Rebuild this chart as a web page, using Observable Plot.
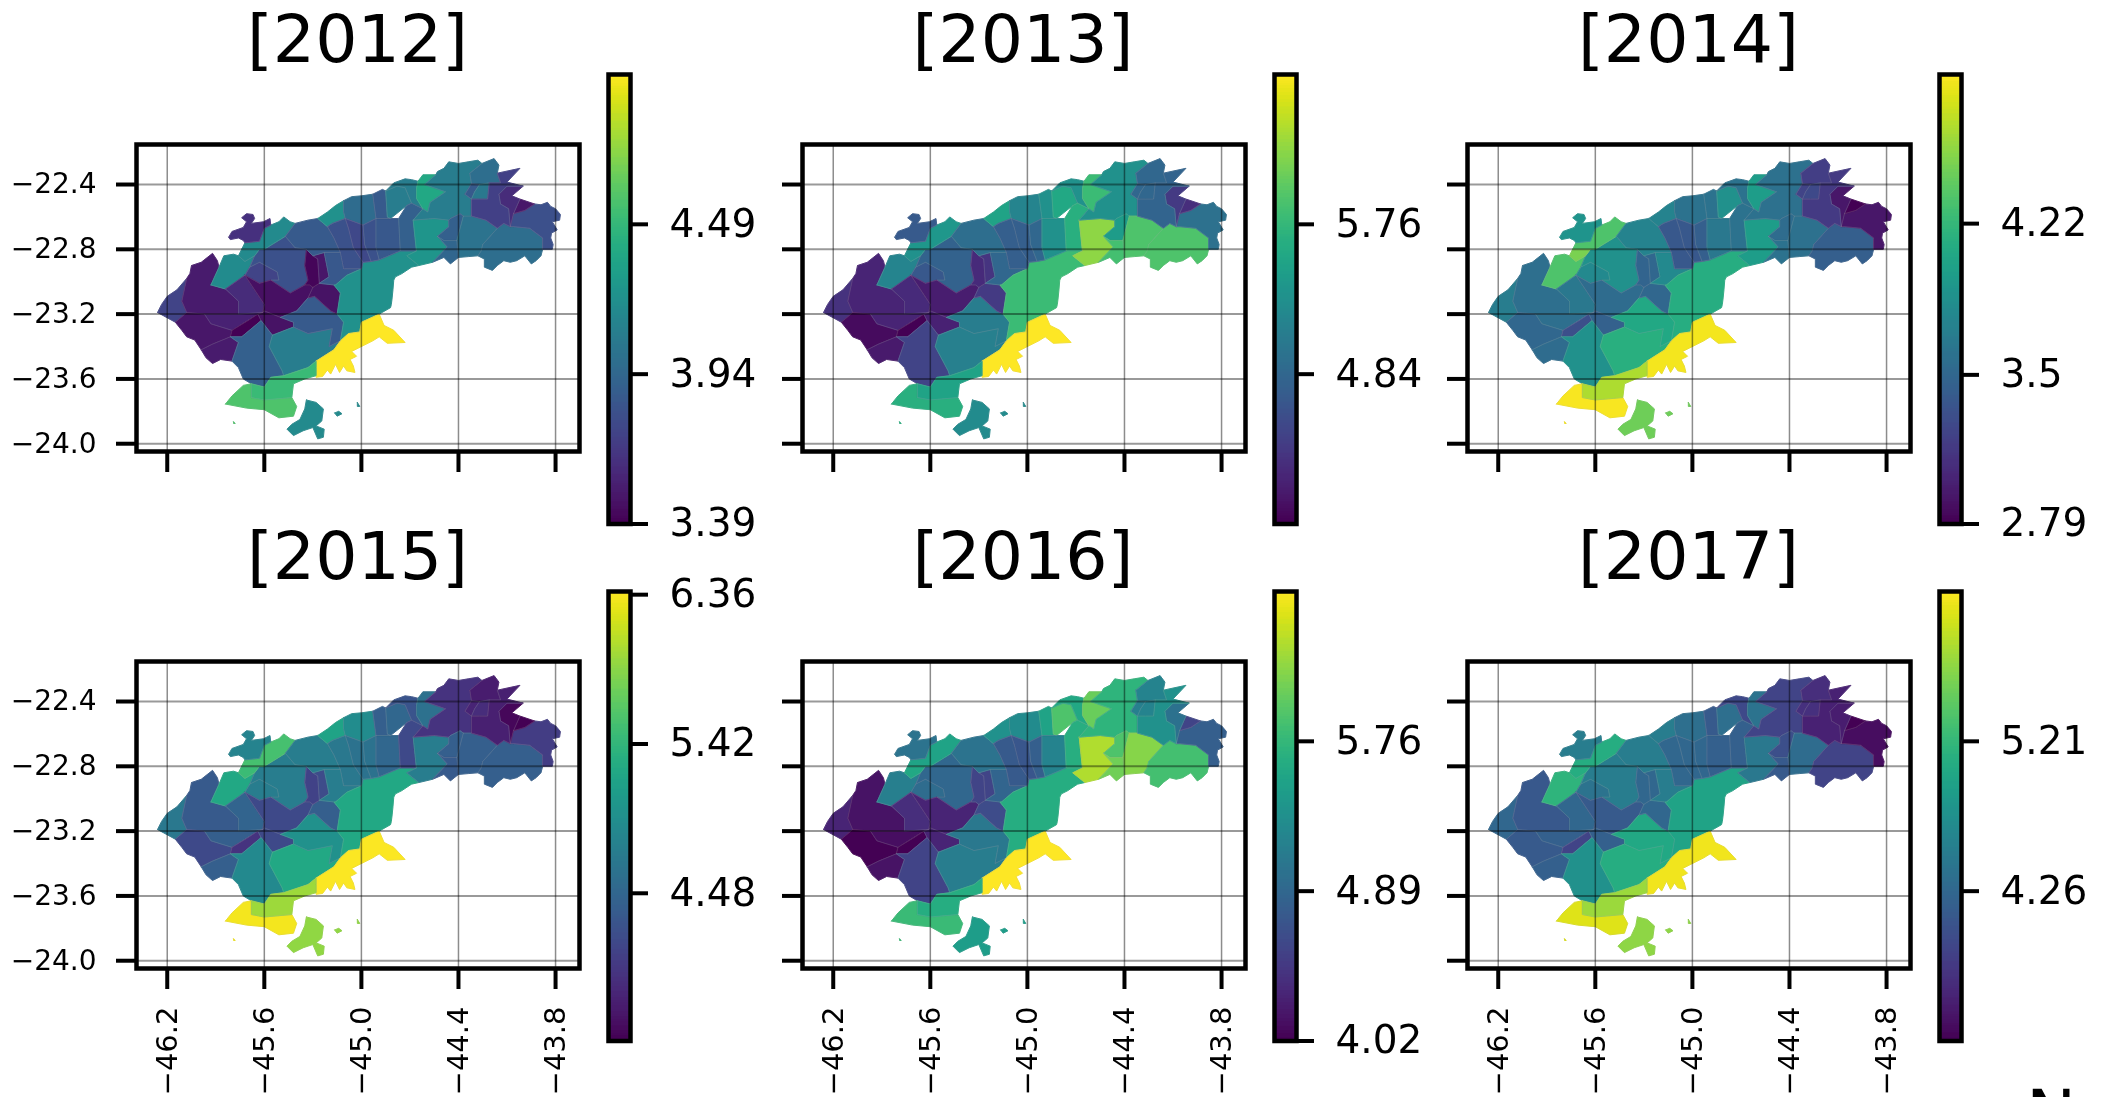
<!DOCTYPE html>
<html>
<head>
<meta charset="utf-8">
<script src="https://cdn.jsdelivr.net/npm/d3@7"></script>
<script src="https://cdn.jsdelivr.net/npm/@observablehq/plot@0.6"></script>
<style>
html,body{margin:0;padding:0;background:#fff;overflow:hidden}
#fig{position:relative;width:2108px;height:1097px;overflow:hidden;background:#fff;font-family:"DejaVu Sans";color:#000;filter:blur(0.6px)}
#fig svg{position:absolute;overflow:visible;background:transparent}
.ttl{position:absolute;font:66.5px/1 "DejaVu Sans";transform:translateX(-50%);white-space:nowrap}
</style>
</head>
<body>
<div id="fig"></div>
<script>
const years = [2012, 2013, 2014, 2015, 2016, 2017];
const lonTicks = [-46.2, -45.6, -45.0, -44.4, -43.8];
const latTicks = [-22.4, -22.8, -23.2, -23.6, -24.0];
const lonDomain = [-46.39, -43.652];
const latDomain = [-24.048, -22.153];

const regionOutlines = [
 [0,[-46.26,-23.19,-46.235,-23.14,-46.20,-23.09,-46.14,-23.05,-46.08,-22.98,-46.11,-23.12,-46.08,-23.19,-46.15,-23.25]],
 [1,[-46.05,-22.90,-45.99,-22.88,-45.92,-22.825,-45.89,-22.87,-45.88,-22.91,-45.93,-23.02,-45.84,-23.045,-45.76,-23.12,-45.76,-23.20,-45.97,-23.20,-46.08,-23.19,-46.11,-23.12,-46.08,-22.98,-46.06,-22.95]],
 [2,[-46.15,-23.25,-46.08,-23.19,-45.97,-23.20,-45.93,-23.26,-45.80,-23.30,-45.81,-23.34,-45.92,-23.385,-45.99,-23.42,-46.03,-23.36,-46.08,-23.34,-46.11,-23.30]],
 [3,[-45.97,-23.20,-45.76,-23.20,-45.61,-23.19,-45.64,-23.20,-45.80,-23.30,-45.93,-23.26]],
 [4,[-45.93,-23.02,-45.88,-22.91,-45.85,-22.84,-45.79,-22.83,-45.76,-22.84,-45.72,-22.875,-45.66,-22.84,-45.69,-22.91,-45.72,-22.96,-45.84,-23.045]],
 [5,[-45.84,-23.045,-45.72,-22.96,-45.60,-23.14,-45.61,-23.19,-45.76,-23.20,-45.76,-23.12]],
 [6,[-45.72,-22.96,-45.69,-22.91,-45.63,-22.88,-45.52,-22.94,-45.51,-22.99,-45.56,-22.99,-45.63,-23.01]],
 [7,[-45.69,-22.91,-45.66,-22.84,-45.63,-22.80,-45.60,-22.80,-45.47,-22.72,-45.41,-22.79,-45.34,-22.80,-45.35,-22.90,-45.33,-22.99,-45.35,-23.02,-45.44,-23.07,-45.56,-22.99,-45.51,-22.99,-45.52,-22.94,-45.63,-22.88]],
 [8,[-45.74,-22.80,-45.72,-22.76,-45.63,-22.75,-45.60,-22.67,-45.56,-22.65,-45.51,-22.63,-45.48,-22.60,-45.44,-22.63,-45.41,-22.64,-45.47,-22.72,-45.60,-22.80,-45.63,-22.80]],
 [9,[-45.82,-22.725,-45.80,-22.69,-45.73,-22.665,-45.71,-22.63,-45.74,-22.605,-45.71,-22.58,-45.67,-22.585,-45.66,-22.61,-45.68,-22.64,-45.605,-22.63,-45.565,-22.61,-45.56,-22.65,-45.60,-22.67,-45.63,-22.75,-45.72,-22.76,-45.73,-22.745,-45.76,-22.73,-45.81,-22.74]],
 [10,[-45.72,-22.96,-45.63,-23.01,-45.56,-22.99,-45.44,-23.07,-45.35,-23.02,-45.32,-23.02,-45.30,-23.035,-45.33,-23.10,-45.40,-23.18,-45.50,-23.22,-45.60,-23.18,-45.61,-23.19,-45.60,-23.14]],
 [11,[-45.80,-23.30,-45.70,-23.24,-45.64,-23.20,-45.62,-23.24,-45.74,-23.34,-45.81,-23.34]],
 [12,[-45.64,-23.20,-45.61,-23.19,-45.60,-23.18,-45.50,-23.22,-45.42,-23.25,-45.42,-23.28,-45.55,-23.33,-45.62,-23.24]],
 [13,[-45.99,-23.42,-45.92,-23.385,-45.81,-23.34,-45.76,-23.375,-45.80,-23.49,-45.87,-23.48,-45.92,-23.505,-45.96,-23.47]],
 [14,[-45.74,-23.34,-45.62,-23.24,-45.55,-23.33,-45.57,-23.40,-45.49,-23.55,-45.48,-23.58,-45.56,-23.59,-45.60,-23.65,-45.68,-23.63,-45.73,-23.60,-45.76,-23.53,-45.80,-23.49,-45.76,-23.375,-45.81,-23.34]],
 [15,[-45.55,-23.33,-45.42,-23.28,-45.33,-23.32,-45.18,-23.29,-45.20,-23.40,-45.13,-23.365,-45.17,-23.42,-45.28,-23.49,-45.33,-23.53,-45.48,-23.58,-45.49,-23.55,-45.57,-23.40]],
 [16,[-45.50,-23.22,-45.40,-23.18,-45.33,-23.10,-45.29,-23.09,-45.19,-23.18,-45.15,-23.20,-45.11,-23.25,-45.13,-23.365,-45.20,-23.40,-45.18,-23.29,-45.33,-23.32,-45.42,-23.28,-45.42,-23.25]],
 [17,[-45.30,-23.035,-45.26,-23.01,-45.17,-23.02,-45.13,-23.07,-45.15,-23.20,-45.19,-23.18,-45.29,-23.09,-45.33,-23.10]],
 [18,[-45.34,-22.80,-45.30,-22.84,-45.27,-22.86,-45.26,-23.01,-45.30,-23.035,-45.32,-23.02,-45.35,-23.02,-45.33,-22.99,-45.35,-22.90]],
 [19,[-45.30,-22.84,-45.23,-22.82,-45.20,-22.97,-45.26,-23.01,-45.27,-22.86]],
 [20,[-45.23,-22.82,-45.13,-22.82,-45.11,-22.92,-45.00,-22.92,-45.09,-22.96,-45.16,-23.02,-45.17,-23.02,-45.26,-23.01,-45.20,-22.97]],
 [21,[-45.16,-23.02,-45.09,-22.96,-45.00,-22.92,-44.99,-22.88,-44.94,-22.875,-44.89,-22.865,-44.76,-22.81,-44.66,-22.81,-44.72,-22.84,-44.645,-22.90,-44.69,-22.91,-44.75,-22.95,-44.79,-22.97,-44.80,-22.99,-44.805,-23.05,-44.81,-23.10,-44.815,-23.14,-44.82,-23.16,-44.89,-23.20,-45.00,-23.25,-45.01,-23.31,-45.08,-23.32,-45.13,-23.365,-45.11,-23.25,-45.15,-23.20,-45.13,-23.07,-45.17,-23.02]],
 [22,[-45.47,-22.72,-45.41,-22.64,-45.33,-22.62,-45.27,-22.61,-45.21,-22.66,-45.17,-22.73,-45.13,-22.82,-45.23,-22.82,-45.30,-22.84,-45.34,-22.80,-45.41,-22.79]],
 [23,[-45.76,-22.84,-45.74,-22.80,-45.63,-22.80,-45.66,-22.84,-45.72,-22.875]],
 [24,[-45.27,-22.61,-45.21,-22.57,-45.16,-22.53,-45.11,-22.50,-45.11,-22.57,-45.10,-22.61,-45.18,-22.64,-45.21,-22.66]],
 [25,[-45.11,-22.50,-45.06,-22.475,-45.00,-22.47,-44.93,-22.46,-44.91,-22.61,-44.99,-22.65,-45.10,-22.61,-45.11,-22.57]],
 [26,[-44.93,-22.46,-44.87,-22.43,-44.85,-22.44,-44.84,-22.60,-44.82,-22.61,-44.91,-22.61]],
 [27,[-45.21,-22.66,-45.18,-22.64,-45.10,-22.61,-45.08,-22.67,-45.05,-22.79,-44.99,-22.88,-45.00,-22.92,-45.11,-22.92,-45.13,-22.82,-45.17,-22.73]],
 [28,[-45.10,-22.61,-44.99,-22.65,-44.98,-22.77,-44.94,-22.875,-44.99,-22.88,-45.05,-22.79,-45.08,-22.67]],
 [29,[-44.99,-22.65,-44.91,-22.61,-44.91,-22.79,-44.89,-22.865,-44.94,-22.875,-44.98,-22.77]],
 [30,[-44.85,-22.44,-44.78,-22.41,-44.73,-22.42,-44.69,-22.515,-44.72,-22.53,-44.82,-22.61,-44.84,-22.60]],
 [31,[-44.85,-22.44,-44.80,-22.39,-44.73,-22.365,-44.69,-22.37,-44.65,-22.38,-44.66,-22.425,-44.66,-22.485,-44.62,-22.55,-44.69,-22.515,-44.73,-22.42,-44.78,-22.41]],
 [32,[-44.91,-22.61,-44.82,-22.61,-44.77,-22.61,-44.76,-22.81,-44.89,-22.865,-44.91,-22.79]],
 [33,[-44.77,-22.61,-44.72,-22.53,-44.69,-22.515,-44.62,-22.55,-44.68,-22.62,-44.66,-22.81,-44.76,-22.81]],
 [34,[-44.68,-22.62,-44.55,-22.61,-44.46,-22.62,-44.46,-22.66,-44.53,-22.72,-44.47,-22.785,-44.56,-22.88,-44.645,-22.90,-44.72,-22.84,-44.66,-22.81]],
 [35,[-44.65,-22.38,-44.62,-22.34,-44.54,-22.34,-44.61,-22.40,-44.48,-22.445,-44.575,-22.51,-44.59,-22.57,-44.62,-22.55,-44.66,-22.485,-44.66,-22.425]],
 [36,[-44.54,-22.34,-44.53,-22.32,-44.49,-22.30,-44.46,-22.26,-44.40,-22.27,-44.34,-22.26,-44.28,-22.25,-44.255,-22.27,-44.33,-22.33,-44.32,-22.395,-44.36,-22.46,-44.32,-22.49,-44.32,-22.595,-44.37,-22.595,-44.39,-22.58,-44.45,-22.61,-44.46,-22.62,-44.55,-22.61,-44.68,-22.62,-44.62,-22.55,-44.59,-22.57,-44.575,-22.51,-44.48,-22.445,-44.61,-22.40]],
 [37,[-44.53,-22.72,-44.46,-22.66,-44.46,-22.62,-44.45,-22.61,-44.39,-22.58,-44.37,-22.595,-44.41,-22.745,-44.49,-22.745]],
 [38,[-44.37,-22.595,-44.32,-22.595,-44.23,-22.62,-44.16,-22.67,-44.25,-22.77,-44.26,-22.81,-44.28,-22.84,-44.34,-22.845,-44.40,-22.85,-44.41,-22.745]],
 [39,[-44.53,-22.72,-44.49,-22.745,-44.41,-22.745,-44.40,-22.85,-44.45,-22.89,-44.49,-22.85,-44.56,-22.88,-44.47,-22.785]],
 [40,[-44.25,-22.77,-44.16,-22.67,-44.12,-22.64,-44.08,-22.66,-44.06,-22.66,-43.96,-22.67,-43.88,-22.73,-43.88,-22.80,-43.89,-22.84,-43.92,-22.87,-43.95,-22.89,-43.99,-22.84,-44.04,-22.87,-44.08,-22.88,-44.12,-22.87,-44.16,-22.90,-44.19,-22.93,-44.24,-22.91,-44.24,-22.86,-44.28,-22.84,-44.26,-22.81]],
 [41,[-44.08,-22.66,-44.06,-22.58,-43.99,-22.56,-43.93,-22.52,-43.89,-22.525,-43.85,-22.51,-43.83,-22.535,-43.80,-22.55,-43.77,-22.585,-43.775,-22.62,-43.82,-22.63,-43.79,-22.68,-43.825,-22.70,-43.83,-22.73,-43.815,-22.77,-43.82,-22.80,-43.88,-22.80,-43.88,-22.73,-43.96,-22.67,-44.06,-22.66]],
 [42,[-44.06,-22.58,-44.02,-22.49,-43.93,-22.52,-43.99,-22.56]],
 [43,[-44.15,-22.46,-44.10,-22.41,-44.00,-22.41,-44.07,-22.47,-44.02,-22.49,-44.06,-22.58,-44.08,-22.66,-44.09,-22.55,-44.14,-22.52]],
 [44,[-44.33,-22.33,-44.255,-22.27,-44.18,-22.24,-44.15,-22.28,-44.16,-22.33,-44.14,-22.39,-44.21,-22.39,-44.27,-22.40,-44.32,-22.395]],
 [45,[-44.36,-22.46,-44.32,-22.395,-44.27,-22.40,-44.30,-22.445,-44.32,-22.49]],
 [46,[-44.27,-22.40,-44.21,-22.39,-44.22,-22.49,-44.27,-22.49,-44.32,-22.49,-44.30,-22.445]],
 [47,[-44.21,-22.39,-44.14,-22.39,-44.16,-22.33,-44.02,-22.30,-44.10,-22.385,-44.00,-22.41,-44.10,-22.41,-44.15,-22.46,-44.14,-22.52,-44.09,-22.55,-44.08,-22.66,-44.12,-22.64,-44.16,-22.67,-44.23,-22.62,-44.32,-22.595,-44.32,-22.49,-44.27,-22.49,-44.22,-22.49]],
 [48,[-45.28,-23.49,-45.17,-23.42,-45.13,-23.365,-45.08,-23.32,-45.01,-23.31,-45.00,-23.25,-44.89,-23.20,-44.86,-23.27,-44.80,-23.30,-44.73,-23.375,-44.84,-23.38,-44.89,-23.34,-44.93,-23.365,-45.06,-23.43,-45.03,-23.46,-45.07,-23.48,-45.05,-23.52,-45.04,-23.56,-45.09,-23.55,-45.11,-23.52,-45.135,-23.56,-45.16,-23.51,-45.19,-23.57,-45.21,-23.545,-45.24,-23.585,-45.28,-23.59,-45.28,-23.53]],
 [49,[-45.84,-23.755,-45.80,-23.705,-45.73,-23.64,-45.68,-23.63,-45.68,-23.715,-45.60,-23.73,-45.43,-23.715,-45.40,-23.77,-45.42,-23.83,-45.51,-23.84,-45.60,-23.79,-45.71,-23.78]],
 [49,[-45.79,-23.865,-45.78,-23.875,-45.79,-23.875]],
 [50,[-45.68,-23.63,-45.60,-23.65,-45.56,-23.59,-45.48,-23.58,-45.33,-23.53,-45.28,-23.49,-45.28,-23.53,-45.28,-23.58,-45.35,-23.60,-45.42,-23.63,-45.43,-23.715,-45.60,-23.73,-45.68,-23.715]],
 [51,[-45.34,-23.73,-45.28,-23.745,-45.235,-23.785,-45.245,-23.86,-45.28,-23.89,-45.23,-23.91,-45.235,-23.96,-45.27,-23.97,-45.30,-23.90,-45.36,-23.92,-45.42,-23.95,-45.46,-23.91,-45.43,-23.88,-45.38,-23.85,-45.35,-23.785]],
 [51,[-45.165,-23.81,-45.14,-23.80,-45.12,-23.815,-45.15,-23.83]],
 [51,[-45.025,-23.745,-45.01,-23.77,-45.025,-23.77]]
];

const values2012 = [3.72,3.51,3.49,3.54,4.18,3.59,3.72,3.80,4.17,3.62,3.46,3.39,3.47,3.51,3.89,4.08,3.85,3.47,3.41,3.49,3.84,4.22,3.85,4.17,4.22,3.97,3.85,3.80,3.75,3.80,4.08,4.08,3.84,3.89,4.25,4.38,4.08,3.89,4.02,3.93,3.98,3.79,3.49,3.59,3.98,3.85,4.05,3.70,5.04,4.58,4.51,4.17];
const values2013 = [4.31,4.20,4.00,4.20,5.16,4.25,4.67,4.78,5.38,4.69,4.14,3.92,4.17,4.11,4.47,5.11,5.08,4.39,4.25,4.33,4.83,5.80,4.91,5.30,5.52,5.16,5.30,4.75,4.75,4.83,5.58,5.30,5.30,5.66,6.21,5.80,5.30,5.44,5.91,5.85,5.91,4.94,4.28,4.39,4.83,4.83,4.83,4.80,6.68,5.66,5.52,5.24];
const values2014 = [3.69,3.56,3.50,3.56,4.33,3.65,3.80,3.86,4.33,3.90,3.54,3.30,3.45,3.54,3.86,4.14,4.07,3.50,3.47,3.50,3.80,4.12,3.75,4.50,3.75,3.60,3.60,3.37,3.37,3.43,3.86,3.60,3.65,3.60,3.97,3.97,3.58,3.54,3.58,3.60,3.43,2.92,2.79,2.92,3.18,3.22,3.26,3.15,4.89,4.91,4.67,4.46];
const values2015 = [4.68,4.34,4.17,4.40,5.25,4.45,4.74,4.74,5.54,4.82,4.17,3.97,4.17,4.40,4.88,5.25,4.97,4.40,4.11,4.20,4.74,5.25,4.74,5.48,5.19,4.91,4.40,4.68,4.62,4.62,4.48,4.28,4.48,4.17,4.74,4.59,3.97,4.40,4.40,4.34,4.40,4.05,3.54,3.60,3.77,3.83,3.91,3.80,6.36,6.33,5.96,5.91];
const values2016 = [4.28,4.15,4.02,4.12,5.14,4.36,4.93,4.88,5.53,5.01,4.28,4.02,4.28,4.15,4.54,5.12,5.06,4.62,4.54,4.54,4.86,5.64,5.01,5.59,5.33,5.27,5.53,4.75,4.72,4.80,5.90,5.59,5.19,5.66,6.32,6.03,5.72,5.90,6.16,6.06,5.85,4.80,4.54,4.99,5.19,5.14,5.19,5.33,6.63,5.79,5.64,5.46];
const values2017 = [4.25,4.08,4.11,4.17,5.16,4.25,4.39,4.51,5.08,4.51,4.11,3.88,4.17,4.17,4.74,5.08,5.02,4.25,4.25,4.25,4.51,4.96,4.51,5.08,4.51,4.34,4.11,4.25,4.25,4.25,4.34,3.94,4.17,4.17,4.45,4.39,3.88,3.99,4.31,4.11,3.88,3.40,3.31,3.54,3.68,3.71,3.71,3.57,6.10,6.02,5.73,5.68];
const yearValues = [values2012, values2013, values2014, values2015, values2016, values2017];

const colorDomains = [[3.39,5.04],[3.92,6.68],[2.79,4.93],[3.55,6.38],[4.02,6.63],[3.31,6.16]];
const colorTicks = [[3.39,3.94,4.49],[4.84,5.76],[2.79,3.5,4.22],[4.48,5.42,6.36],[4.02,4.89,5.76],[4.26,5.21]];

const fig = document.getElementById("fig");
const FONT = "DejaVu Sans";
const COL = 665.5, ROW = 517;
const minusFmt = d3.format(".1f");

function place(svg, left, top) {
  svg.style.left = left + "px";
  svg.style.top = top + "px";
  fig.appendChild(svg);
}

function mapPanel(i) {
  const col = i % 3, row = Math.floor(i / 3);
  const ml = 130, mr = 10, mt = 8, mb = 130, w = 443, h = 307;
  const rows = regionOutlines.flatMap(([r, flat], part) => {
    const pts = d3.range(0, flat.length, 2).map(k => ({part, lon: flat[k], lat: flat[k + 1], value: yearValues[i][r]}));
    pts.push(pts[0]);
    return pts;
  });
  const svg = Plot.plot({
    width: ml + w + mr, height: mt + h + mb,
    marginLeft: ml, marginRight: mr, marginTop: mt, marginBottom: mb,
    x: {domain: lonDomain, axis: null},
    y: {domain: latDomain, axis: null},
    color: {type: "linear", scheme: "viridis", domain: colorDomains[i]},
    style: {fontFamily: FONT, color: "#000", background: "transparent", overflow: "visible"},
    marks: [
      Plot.line(rows, {x: "lon", y: "lat", z: "part", fill: "value", stroke: "value", strokeWidth: 1, strokeLinejoin: "round", curve: "linear"}),
      Plot.line(rows, {x: "lon", y: "lat", z: "part", stroke: "#aaa", strokeOpacity: 0.16, strokeWidth: 0.8, curve: "linear"}),
      Plot.gridX(lonTicks, {stroke: "#000", strokeOpacity: 0.45, strokeWidth: 1.5}),
      Plot.gridY(latTicks, {stroke: "#000", strokeOpacity: 0.4, strokeWidth: 2}),
      Plot.axisX(lonTicks, row === 1
        ? {anchor: "bottom", label: null, tickSize: 21, strokeWidth: 4, tickRotate: -90, tickPadding: 17, fontSize: 29, tickFormat: minusFmt}
        : {anchor: "bottom", label: null, tickSize: 21, strokeWidth: 4, fill: "none"}),
      Plot.axisY(latTicks, col === 0
        ? {anchor: "left", label: null, tickSize: 20, strokeWidth: 4, tickPadding: 20, fontSize: 28, tickFormat: minusFmt}
        : {anchor: "left", label: null, tickSize: 20, strokeWidth: 4, fill: "none"}),
      Plot.frame({stroke: "#000", strokeWidth: 4.5})
    ]
  });
  place(svg, 136 + col * COL - ml, 144 + row * ROW - mt);
}

function colorBar(i) {
  const col = i % 3, row = Math.floor(i / 3);
  const ml = 8, mr = 130, mt = 8, mb = 8, w = 22, h = 449.5;
  const [lo, hi] = colorDomains[i];
  const steps = d3.range(256).map(k => ({lo: lo + (hi - lo) * k / 256, hi: lo + (hi - lo) * (k + 1) / 256}));
  const svg = Plot.plot({
    width: ml + w + mr, height: mt + h + mb,
    marginLeft: ml, marginRight: mr, marginTop: mt, marginBottom: mb,
    x: {domain: [0, 1], axis: null},
    y: {domain: [lo, hi], axis: null},
    color: {type: "linear", scheme: "viridis", domain: [lo, hi]},
    style: {fontFamily: FONT, color: "#000", background: "transparent", overflow: "visible"},
    marks: [
      Plot.rect(steps, {x1: () => 0, x2: () => 1, y1: "lo", y2: "hi", fill: "lo", shapeRendering: "crispEdges"}),
      Plot.axisY(colorTicks[i], {anchor: "right", label: null, tickSize: 17, strokeWidth: 4, tickPadding: 22, fontSize: 39, tickFormat: d => String(d)}),
      Plot.frame({stroke: "#000", strokeWidth: 4.5})
    ]
  });
  place(svg, 608 + col * COL - ml, (row === 0 ? 73.5 : 590.5) - mt);
}

function title(text, cx, top) {
  const d = document.createElement("div");
  d.className = "ttl";
  d.textContent = text;
  d.style.left = cx + "px";
  d.style.top = top + "px";
  fig.appendChild(d);
}

years.forEach((y, i) => {
  mapPanel(i);
  colorBar(i);
  title("[" + y + "]", 357.5 + (i % 3) * COL, 5.5 + Math.floor(i / 3) * ROW);
});
title("N", 2051, 1081);
</script>
</body>
</html>
